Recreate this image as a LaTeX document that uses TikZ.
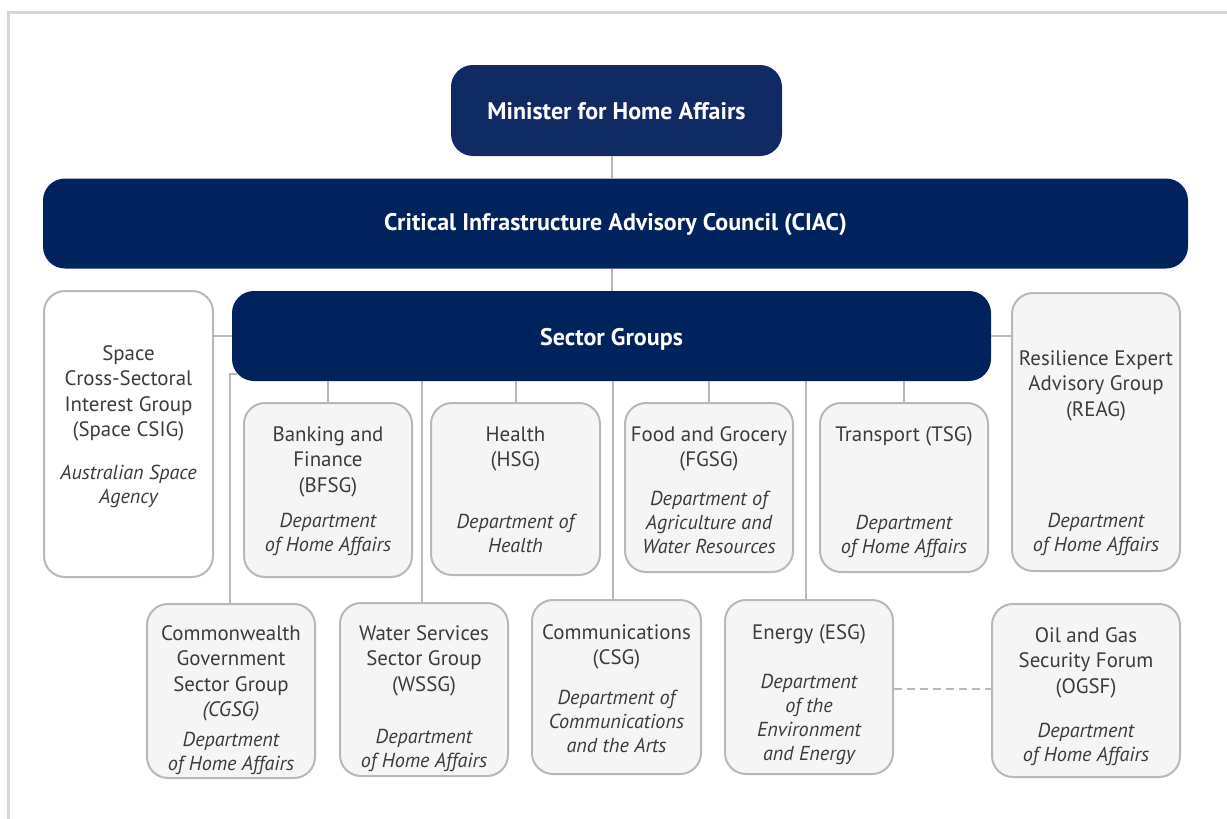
\documentclass[tikz,border=0pt]{standalone}
\usepackage{fontspec}
\setmainfont{PT Sans}
\definecolor{navyA}{RGB}{16,43,99}
\definecolor{navyB}{RGB}{0,34,93}
\definecolor{edge}{RGB}{188,183,179}
\definecolor{pale}{RGB}{245,245,245}
\definecolor{ink}{RGB}{60,60,60}
\definecolor{frame}{RGB}{214,214,214}

\begin{document}
\begin{tikzpicture}[x = 1pt, y = -1pt]
\tikzstyle{Council}=[shape = rectangle,
                     rounded corners = 22pt,
                     inner sep = 0pt,
                     text = white,
                     font = \fontsize{24}{28}\selectfont\bfseries]
\tikzstyle{Group}=[shape = rectangle,
                   rounded corners = 21pt,
                   inner sep = 0pt,
                   draw = edge,
                   line width = 2pt,
                   fill = pale]
\tikzstyle{Title}=[anchor = north,
                   align = center,
                   inner sep = 0pt,
                   text = ink,
                   font = \fontsize{20.9}{25.3}\selectfont]
\tikzstyle{Dept}=[Title, font = \fontsize{20.2}{24}\selectfont\itshape]
\tikzstyle{Link}=[draw = edge, line width = 2pt]
\useasboundingbox (0,0) rectangle (1227,819);
\draw[draw = frame, line width = 2.5pt] (8.5,819) -- (8.5,12.5) -- (1227,12.5);
\node[Council, fill = navyA, minimum width = 331pt, minimum height = 91pt] (minister) at (616.5,110.5) {\raisebox{-1pt}[\height][\depth]{Minister for Home Affairs}};
\node[Council, fill = navyB, minimum width = 1145pt, minimum height = 90pt] (ciac) at (615.5,223.5) {\raisebox{-1pt}[\height][\depth]{Critical Infrastructure Advisory Council (CIAC)}};
\node[Council, fill = navyB, minimum width = 759pt, minimum height = 90pt] (sectors) at (611.5,336) {\raisebox{-3pt}[\height][\depth]{Sector Groups}};
\node[Group, fill = white, minimum width = 169pt, minimum height = 286pt] (space) at (128.5,434) {};
\node[Group, minimum width = 168pt, minimum height = 278pt] (reag) at (1096,432) {};
\node[Group, minimum width = 168pt, minimum height = 174pt] (banking) at (328,490) {};
\node[Group, minimum width = 169pt, minimum height = 172pt] (health) at (515.5,489) {};
\node[Group, minimum width = 168pt, minimum height = 169pt] (food) at (709,487.5) {};
\node[Group, minimum width = 168pt, minimum height = 169pt] (transport) at (904,487.5) {};
\node[Group, minimum width = 168pt, minimum height = 174pt] (cgsg) at (231,691) {};
\node[Group, minimum width = 168pt, minimum height = 173pt] (wssg) at (424,689.5) {};
\node[Group, minimum width = 169pt, minimum height = 174pt] (comms) at (616.5,687) {};
\node[Group, minimum width = 168pt, minimum height = 174pt] (energy) at (809,687) {};
\node[Group, minimum width = 188pt, minimum height = 173pt] (ogsf) at (1086,690.5) {};
\node[Title] (spaceT) at (128.5,345.5) {Space\\Cross-Sectoral\\Interest Group\\(Space CSIG)};
\node[Dept] (spaceD) at (128.5,464.5) {Australian Space\\Agency};
\node[Title] (reagT) at (1096,350.5) {Resilience Expert\\Advisory Group\\(REAG)};
\node[Dept] (reagD) at (1096,512.5) {Department\\of Home Affairs};
\node[Title] (bankingT) at (328,426.5) {Banking and\\Finance\\(BFSG)};
\node[Dept] (bankingD) at (328,512.5) {Department\\of Home Affairs};
\node[Title] (healthT) at (515.5,426.5) {Health\\(HSG)};
\node[Dept] (healthD) at (515.5,513.5) {Department of\\Health};
\node[Title] (foodT) at (709,426.5) {Food and Grocery\\(FGSG)};
\node[Dept] (foodD) at (709,490.5) {Department of\\Agriculture and\\Water Resources};
\node[Title] (transportT) at (904,426.5) {Transport (TSG)};
\node[Dept] (transportD) at (904,514.5) {Department\\of Home Affairs};
\node[Title] (cgsgT) at (231,625.5) {Commonwealth\\Government\\Sector Group\\\textit{(CGSG)}};
\node[Dept] (cgsgD) at (231,731.5) {Department\\of Home Affairs};
\node[Title] (wssgT) at (424,625.5) {Water Services\\Sector Group\\(WSSG)};
\node[Dept] (wssgD) at (424,728.5) {Department\\of Home Affairs};
\node[Title] (commsT) at (616.5,624.5) {Communications\\(CSG)};
\node[Dept] (commsD) at (616.5,689.5) {Department of\\Communications\\and the Arts};
\node[Title] (energyT) at (809,624.5) {Energy (ESG)};
\node[Dept] (energyD) at (809,673.5) {Department\\of the\\Environment\\and Energy};
\node[Title] (ogsfT) at (1086,627.5) {Oil and Gas\\Security Forum\\(OGSF)};
\node[Dept] (ogsfD) at (1086,722.5) {Department\\of Home Affairs};
\draw[Link] (sectors.north |- minister.south) -- (sectors.north |- ciac.north);
\draw[Link] (sectors.north |- ciac.south) -- (sectors.north);
\draw[Link] (sectors.west) -- (sectors.west -| space.east);
\draw[Link] (sectors.east) -- (sectors.east -| reag.west);
\draw[Link] (banking.north) -- (banking.north |- sectors.south);
\draw[Link] (health.north) -- (health.north |- sectors.south);
\draw[Link] (food.north) -- (food.north |- sectors.south);
\draw[Link] (transport.north) -- (transport.north |- sectors.south);
\draw[Link] ([xshift = -1pt]cgsg.north) |- ([xshift = 5pt, yshift = 7pt]sectors.south west);
\draw[Link] ([xshift = -2pt]wssg.north) -- ([xshift = -2pt]wssg.north |- sectors.south);
\draw[Link] ([xshift = -3.5pt]comms.north) -- ([xshift = -3.5pt]comms.north |- sectors.south);
\draw[Link] ([xshift = -3pt]energy.north) -- ([xshift = -3pt]energy.north |- sectors.south);
\draw[Link, dash pattern = on 8pt off 5pt] ([yshift = -2pt]energy.east) -- ([yshift = -2pt]energy.east -| ogsf.west);
\end{tikzpicture}
\end{document}
